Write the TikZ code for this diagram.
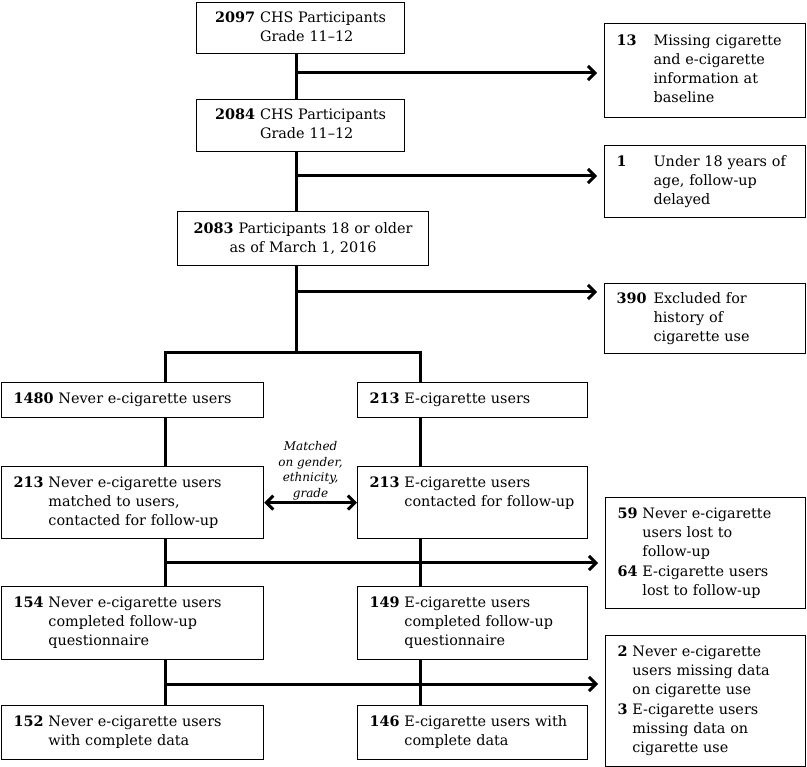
\documentclass[tikz,border=0pt]{standalone}
\usepackage{fontspec}
\setmainfont{DejaVu Serif}
\usetikzlibrary{arrows.meta}

% number in bold, text lines hanging after it
\newcommand{\entry}[2]{\begin{tabular}{@{}l@{\ }l@{}}\textbf{#1} & #2\end{tabular}}
\newcommand{\entrywide}[2]{\begin{tabular}{@{}p{37pt}@{}l@{}}\textbf{#1} & #2\end{tabular}}

\begin{document}
\begin{tikzpicture}[
    line cap=butt,
    line join=miter,
    flow/.style={draw, line width=1.2pt, anchor=north west, inner xsep=12pt,
                 inner ysep=0pt, align=left, font=\fontsize{14.4}{19}\selectfont},
    flowline/.style={line width=3pt},
    flowarrow/.style={line width=3pt, -{Straight Barb[length=7pt,width=14pt]}, shorten >=7pt}
]

% Global scale: one unit is one pixel of the layout
\begin{scope}[x=1pt,y=-1pt]

\useasboundingbox (0,0) rectangle (807,767);

% Main column
\node[flow, minimum height=51pt, text width=184pt, align=center] (n2097) at (196,2)
    {\entry{2097}{CHS Participants\\ & Grade 11--12}};
\node[flow, minimum height=52pt, text width=184pt, align=center] (n2084) at (196,99)
    {\entry{2084}{CHS Participants\\ & Grade 11--12}};
\node[flow, minimum height=54pt, text width=227pt, align=center] (n2083) at (177,211)
    {\textbf{2083} Participants 18 or older\\as of March 1, 2016};

% Exclusions on the right
\node[flow, minimum height=94pt, text width=177pt] (n13) at (604,23)
    {\entrywide{13}{Missing cigarette\\ & and e-cigarette\\ & information at\\ & baseline}};
\node[flow, minimum height=72pt, text width=177pt] (n1) at (604,145)
    {\entrywide{1}{Under 18 years of\\ & age, follow-up\\ & delayed}};
\node[flow, minimum height=70pt, text width=177pt] (n390) at (604,283)
    {\entrywide{390}{Excluded for\\ & history of\\ & cigarette use}};

% Never users (left column)
\node[flow, minimum height=35pt, text width=238pt] (n1480) at (1,382)
    {\entry{1480}{Never e-cigarette users}};
\node[flow, minimum height=72pt, text width=238pt] (nNeverM) at (1,466)
    {\entry{213}{Never e-cigarette users\\ & matched to users,\\ & contacted for follow-up}};
\node[flow, minimum height=73pt, text width=238pt] (n154) at (1,586)
    {\entry{154}{Never e-cigarette users\\ & completed follow-up\\ & questionnaire}};
\node[flow, minimum height=54pt, text width=238pt] (n152) at (1,705)
    {\entry{152}{Never e-cigarette users\\ & with complete data}};

% E-cigarette users (right column)
\node[flow, minimum height=35pt, text width=206pt] (n213E) at (357,382)
    {\entry{213}{E-cigarette users}};
\node[flow, minimum height=72pt, text width=206pt] (nUsersC) at (357,466)
    {\entry{213}{E-cigarette users\\ & contacted for follow-up\\ & \strut}};
\node[flow, minimum height=73pt, text width=206pt] (n149) at (357,586)
    {\entry{149}{E-cigarette users\\ & completed follow-up\\ & questionnaire}};
\node[flow, minimum height=54pt, text width=206pt] (n146) at (357,705)
    {\entry{146}{E-cigarette users with\\ & complete data}};

% Losses at follow-up
\node[flow, minimum height=111pt, text width=176pt] (nLost) at (605,497)
    {\entry{59}{Never e-cigarette\\ & users lost to\\ & follow-up}\\
     \entry{64}{E-cigarette users\\ & lost to follow-up}};
\node[flow, minimum height=131pt, text width=176pt] (nMiss) at (605,635)
    {\entry{2}{Never e-cigarette\\ & users missing data\\ & on cigarette use}\\
     \entry{3}{E-cigarette users\\ & missing data on\\ & cigarette use}};

% Spine and branch positions
\coordinate (spine)  at (296,0);
\coordinate (leftx)  at (165,0);
\coordinate (rightx) at (420,0);
\coordinate (tapA)   at (296,73);
\coordinate (tapB)   at (296,176);
\coordinate (tapC)   at (296,292);
\coordinate (split)  at (296,353);
\coordinate (tapD)   at (165,563);
\coordinate (tapE)   at (165,684);

% Main spine
\draw[flowline] (n2097.south -| spine) -- (n2084.north -| spine);
\draw[flowline] (n2084.south -| spine) -- (n2083.north -| spine);
\draw[flowline] (n2083.south -| spine) -- (split);
\draw[flowline] (n1480.north -| leftx) |- (split) -| (n213E.north -| rightx);

% Exclusion arrows
\draw[flowarrow] (tapA) -- (tapA -| n13.west);
\draw[flowarrow] (tapB) -- (tapB -| n1.west);
\draw[flowarrow] (tapC) -- (tapC -| n390.west);

% Left branch
\draw[flowline] (n1480.south -| leftx) -- (nNeverM.north -| leftx);
\draw[flowline] (nNeverM.south -| leftx) -- (n154.north -| leftx);
\draw[flowline] (n154.south -| leftx) -- (n152.north -| leftx);

% Right branch
\draw[flowline] (n213E.south -| rightx) -- (nUsersC.north -| rightx);
\draw[flowline] (nUsersC.south -| rightx) -- (n149.north -| rightx);
\draw[flowline] (n149.south -| rightx) -- (n146.north -| rightx);

% Follow-up arrows
\draw[flowarrow] (tapD) -- (tapD -| nLost.west);
\draw[flowarrow] (tapE) -- (tapE -| nMiss.west);

% Matching between the groups
\draw[line width=3pt, {Straight Barb[length=7pt,width=14pt]}-{Straight Barb[length=7pt,width=14pt]}]
    (nNeverM.east) -- (nUsersC.west) node[midway, above, inner sep=1pt, yshift=0pt, align=center,
    font=\fontsize{12}{15.5}\selectfont\itshape] (match) {Matched\\on gender,\\ethnicity,\\grade};

\end{scope}
\end{tikzpicture}
\end{document}
